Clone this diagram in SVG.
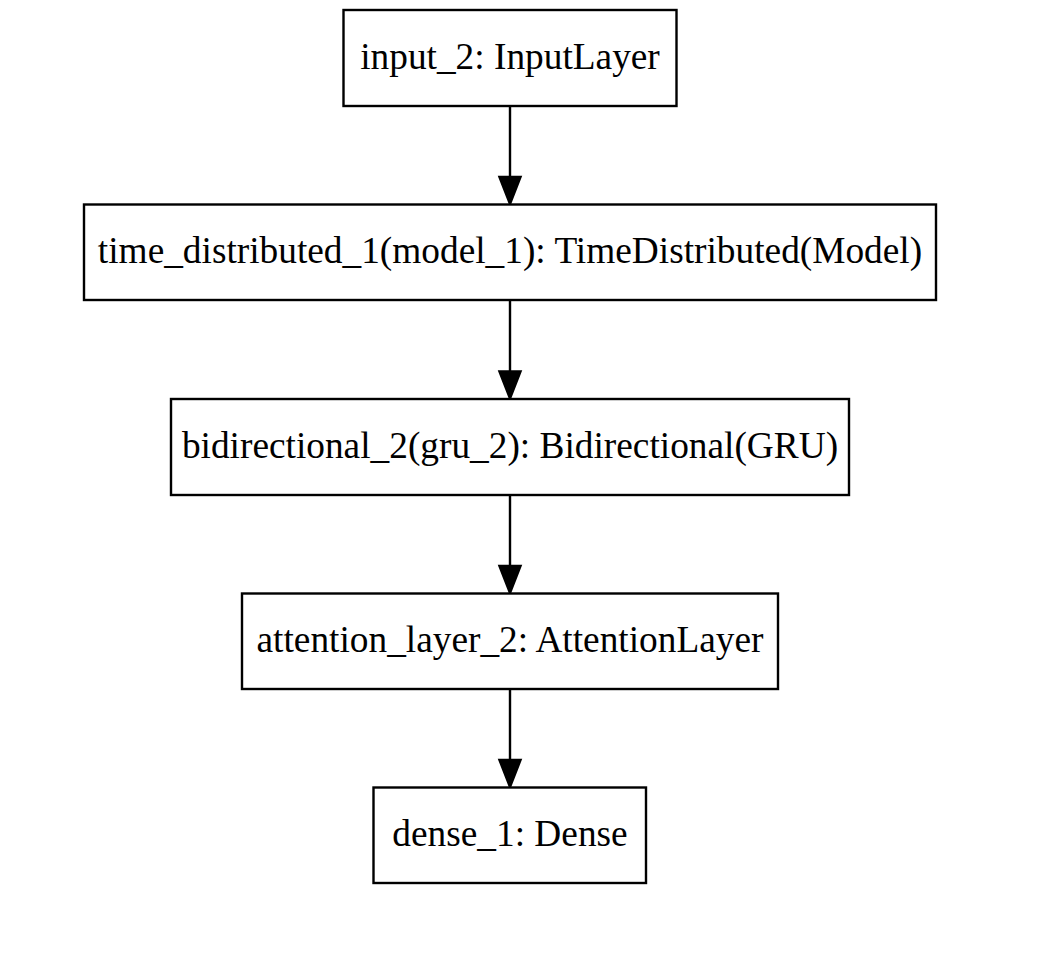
<svg xmlns="http://www.w3.org/2000/svg" width="1064" height="968" viewBox="0 0 1064 968">
<style>
.box{fill:#fff;stroke:#000;stroke-width:2.4}
.lbl{font-family:"Liberation Serif","Times New Roman",serif;font-size:37.33px;fill:#000;text-anchor:middle}
.edge{stroke:#000;stroke-width:2.4;fill:none}
.head{fill:#000;stroke:#000;stroke-width:2.4}
</style>
<rect width="1064" height="968" fill="#fff"/>
<g id="connectors">
<line class="edge" x1="510" y1="106" x2="510" y2="178"/>
<polygon class="head" points="499.5,177 510,204 520.5,177"/>
<line class="edge" x1="510" y1="300" x2="510" y2="372"/>
<polygon class="head" points="499.5,371.5 510,398.5 520.5,371.5"/>
<line class="edge" x1="510" y1="495" x2="510" y2="567"/>
<polygon class="head" points="499.5,566 510,593 520.5,566"/>
<line class="edge" x1="510" y1="689" x2="510" y2="761"/>
<polygon class="head" points="499.5,760 510,787 520.5,760"/>
</g>
<g id="input_2">
<rect class="box" x="343.5" y="10" width="333" height="96"/>
<text class="lbl" x="510" y="68.7">input_2: InputLayer</text>
</g>
<g id="time_distributed_1">
<rect class="box" x="84" y="204.5" width="852" height="95.5"/>
<text class="lbl" x="510" y="263">time_distributed_1(model_1): TimeDistributed(Model)</text>
</g>
<g id="bidirectional_2">
<rect class="box" x="171" y="399" width="678" height="96"/>
<text class="lbl" x="510" y="457.7">bidirectional_2(gru_2): Bidirectional(GRU)</text>
</g>
<g id="attention_layer_2">
<rect class="box" x="242" y="593.5" width="536" height="95.5"/>
<text class="lbl" x="510" y="652">attention_layer_2: AttentionLayer</text>
</g>
<g id="dense_1">
<rect class="box" x="373.5" y="787.5" width="272.5" height="95.5"/>
<text class="lbl" x="510" y="846">dense_1: Dense</text>
</g>
</svg>
